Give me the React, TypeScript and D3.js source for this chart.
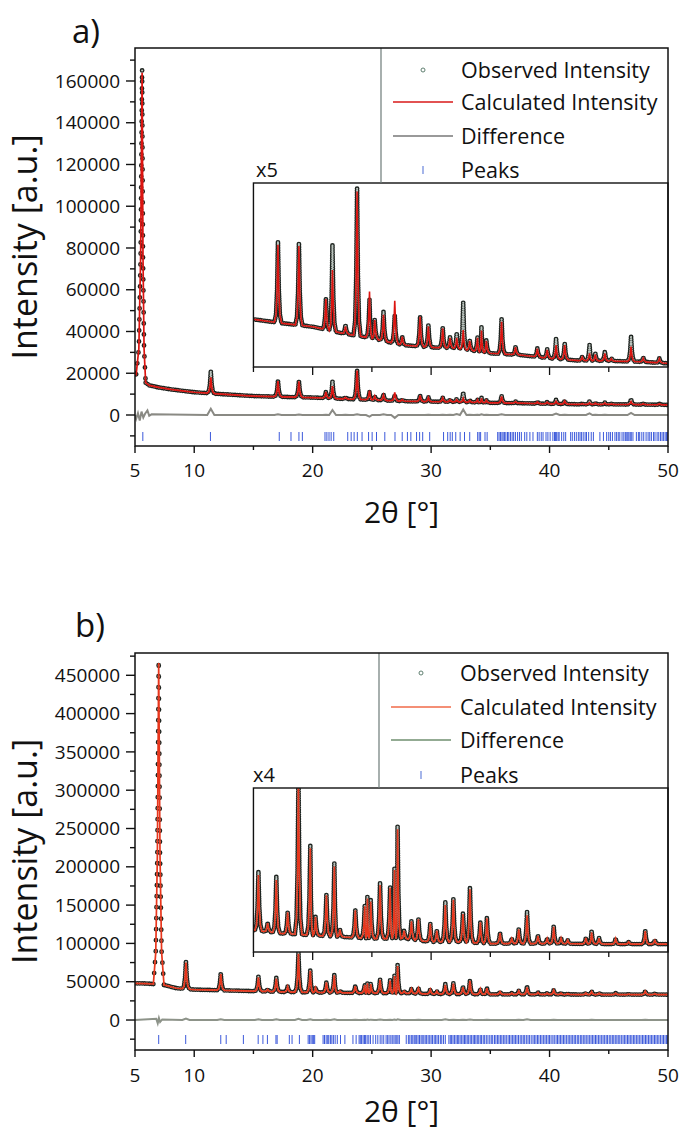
import React from 'react';
import * as d3 from 'd3';

type Pt = [number, number];
// [2theta, observed apex, calculated apex, left half-width?, right half-width?]
type Peak = [number, number, number, number?, number?];

// ---------- panel a ----------
const bgA: Pt[] = [
  [5.0, 20000], [5.9, 15500], [6.2, 14200], [7, 13200], [8, 12300], [9, 11600], [10, 10900],
  [12, 10100], [15, 9070], [17.5, 8680], [20, 8360], [22.5, 7730], [25, 7250], [27.5, 6610],
  [30, 6380], [32, 6290], [35, 5810], [37.5, 5650], [40, 5330], [42.5, 5110], [45, 5080],
  [47.5, 5010], [50, 4850],
];
const peaksA: Peak[] = [
  [5.6, 166000, 164000, 0.5, 0.3],
  [11.4, 21000, 18000], [17.07, 16500, 16200], [18.84, 16350, 16100], [21.12, 11080, 11000],
  [21.67, 16190, 13790], [22.77, 8520, 8400], [23.75, 21600, 21300], [24.8, 10920, 11720],
  [25.24, 9000, 9000], [25.98, 9800, 9500], [26.93, 9480, 10850], [27.56, 7400, 7400],
  [29.07, 9320, 9320], [29.77, 8520, 8400], [30.98, 8300, 8200], [31.6, 7400, 7300],
  [32.16, 7730, 7300], [32.71, 10660, 8040], [33.26, 7090, 7000], [33.92, 7400, 7300],
  [34.25, 8360, 8000], [34.66, 7090, 7000], [35.95, 9160, 8840], [37.13, 6450, 6400],
  [38.97, 6290, 6250], [39.8, 6200, 6150], [40.55, 7250, 6610], [41.28, 6770, 6600],
  [42.76, 5490, 5450], [43.38, 6610, 5810], [43.86, 5810, 5700], [44.67, 5970, 5800],
  [45.22, 5330, 5300], [46.88, 7470, 6450], [47.91, 5400, 5350], [49.27, 5330, 5300],
];
const diffExtraA: Pt[] = [
  [5.1, -1800], [5.25, 900], [5.4, -2600], [5.55, 1600], [5.7, -1200], [5.85, 600],
  [6.05, 2200], [6.2, -400], [6.4, 300],
];
const reflA: number[] = [
  5.66, 11.37, 17.18, 18.17, 18.84, 19.13, 21.04, 21.2, 21.38, 21.56, 21.78, 22.96, 23.25, 23.5,
  23.77, 24.17, 24.72, 25.02, 25.39, 26.09, 26.95, 27.56, 28.0, 28.29, 28.77, 29.03, 29.29, 29.88,
  31.05, 31.4, 31.61, 31.79, 32.08, 32.45, 32.82, 33.26, 33.93, 34.06, 34.18, 34.55, 34.73, 35.62,
  35.74, 35.86, 35.98, 36.08, 36.19, 36.31, 36.45, 36.56, 36.7, 36.84, 36.97, 37.12, 37.3, 37.46,
  37.62, 37.9, 38.08, 38.34, 38.6, 38.97, 39.12, 39.3, 39.45, 39.7, 39.86, 40.05, 40.28, 40.42,
  40.51, 40.6, 40.72, 40.81, 41.02, 41.2, 41.36, 41.78, 41.92, 42.1, 42.26, 42.43, 42.57, 42.69,
  42.84, 43.0, 43.12, 43.3, 43.52, 43.7, 44.25, 44.55, 44.82, 45.0, 45.14, 45.31, 45.52, 45.66,
  45.8, 45.93, 46.12, 46.27, 46.4, 46.52, 46.61, 46.7, 46.81, 46.9, 47.04, 47.33, 47.5, 47.61,
  47.79, 47.95, 48.15, 48.32, 48.46, 48.6, 48.78, 48.9, 49.08, 49.22, 49.37, 49.5, 49.63, 49.76,
  49.88, 49.97,
];
const yTicksA = [0, 20000, 40000, 60000, 80000, 100000, 120000, 140000, 160000];

// ---------- panel b ----------
const bgB: Pt[] = [
  [5, 47900], [6.0, 47600], [6.5, 47000], [7.5, 45600], [8.5, 41500], [10, 39700], [12, 38900],
  [15, 37700], [17.5, 36620], [20, 36075], [22.5, 35530], [25, 34990], [27.5, 34990], [30, 33900],
  [32.5, 33900], [35, 33360], [40, 33360], [45, 33200], [50, 33200],
];
const peaksB: Peak[] = [
  [7.0, 470000, 466000, 0.45, 0.45],
  [9.3, 77000, 75000], [12.24, 61000, 60000], [15.42, 56730, 55640], [16.2, 40100, 40000],
  [16.93, 55100, 54000], [17.89, 43680, 43500], [18.8, 88000, 86500], [19.8, 65420, 64340],
  [20.24, 42050, 42000], [21.16, 49440, 49100], [21.83, 59450, 58400], [22.3, 38000, 37900],
  [23.6, 44450, 44200], [24.4, 45860, 45500], [24.62, 48580, 48000], [24.9, 47490, 47000],
  [25.69, 53140, 52400], [26.54, 51840, 51500], [26.91, 57820, 57300], [27.17, 71500, 70500],
  [27.72, 37700, 37600], [28.34, 40750, 40600], [28.93, 41510, 41300], [29.93, 39880, 39800],
  [30.48, 37700, 37600], [31.2, 46950, 45900], [31.88, 48030, 47600], [32.69, 43360, 43000],
  [33.28, 51620, 51000], [34.16, 40420, 40300], [34.71, 41840, 41600], [35.82, 36840, 36800],
  [36.81, 35000, 35000], [37.4, 38250, 38000], [38.1, 43680, 42600], [39.02, 36000, 35900],
  [39.8, 35000, 35000], [40.35, 39010, 38800], [40.97, 35200, 35100], [41.53, 34500, 34500],
  [43.07, 35200, 35200], [43.55, 37490, 37000], [44.18, 35200, 35100], [45.58, 35000, 35000],
  [46.68, 33900, 33900], [48.08, 37700, 37400], [48.89, 34500, 34400],
];
const diffExtraB: Pt[] = [[6.8, 1500], [6.92, -4200], [7.02, 2600], [7.12, -2500], [7.3, 800]];
const reflB: number[] = [
  7.0, 9.28, 12.24, 12.7, 14.15, 15.4, 15.8, 16.18, 16.9, 17.0, 18.03, 18.26, 18.88, 19.62,
  19.74, 19.86, 19.97, 20.08, 20.17, 20.88, 21.0, 21.14, 21.27, 21.36, 21.5, 21.62, 21.75, 21.9,
  22.08, 22.35, 22.72, 23.4, 23.67, 23.92, 24.02, 24.13, 24.26, 24.38, 24.47, 24.6, 24.74, 24.88,
  25.1, 25.32, 25.5, 25.7, 25.85, 26.0, 26.2, 26.33, 26.45, 26.6, 26.72, 26.86, 26.97, 27.1, 27.2,
  27.32, 27.9, 28.08, 28.2, 28.33, 28.45, 28.57, 28.66, 28.78, 28.9, 29.02, 29.15, 29.25, 29.38,
  29.5, 29.62, 29.75, 29.88, 30.0, 30.12, 30.26, 30.38, 30.5, 30.63, 30.78, 30.9, 31.05, 31.2,
  31.5, 31.62, 31.73, 31.85, 31.97, 32.1, 32.22, 32.33, 32.45, 32.58, 32.7, 32.82, 32.93, 33.05,
  33.17, 33.3, 33.42, 33.55, 33.66, 33.78, 33.9, 34.02, 34.15, 34.26, 34.4, 34.52, 34.66, 34.8,
  34.95, 35.08, 35.2, 35.35, 35.47, 35.6, 35.72, 35.85, 35.97, 36.1, 36.23, 36.35, 36.5, 36.62,
  36.75, 36.88, 37.0, 37.12, 37.25, 37.38, 37.52, 37.65, 37.78, 37.9, 38.04, 38.18, 38.3, 38.45,
  38.6, 38.72, 38.85, 38.98, 39.1, 39.24, 39.36, 39.5, 39.62, 39.75, 39.88, 40.0, 40.13, 40.28,
  40.4, 40.55, 40.67, 40.8, 40.92, 41.05, 41.18, 41.3, 41.44, 41.57, 41.7, 41.82, 41.95, 42.08,
  42.2, 42.34, 42.46, 42.6, 42.72, 42.85, 42.98, 43.1, 43.24, 43.36, 43.5, 43.62, 43.75, 43.88,
  44.0, 44.14, 44.26, 44.4, 44.52, 44.65, 44.78, 44.9, 45.04, 45.17, 45.3, 45.42, 45.55, 45.68,
  45.8, 45.93, 46.06, 46.2, 46.32, 46.45, 46.58, 46.7, 46.82, 46.95, 47.08, 47.2, 47.33, 47.46,
  47.58, 47.72, 47.85, 47.97, 48.1, 48.22, 48.35, 48.48, 48.6, 48.73, 48.86, 48.98, 49.1, 49.23,
  49.36, 49.5, 49.62, 49.75, 49.88, 49.98,
];
const yTicksB = [0, 50000, 100000, 150000, 200000, 250000, 300000, 350000, 400000, 450000];

const xTicks = [5, 10, 20, 30, 40, 50];
const xMinor = [15, 25, 35, 45];
const insetMajor = [20, 30, 40];
const insetMinor = [15, 25, 35, 45];
const legendLabels = ['Observed Intensity', 'Calculated Intensity', 'Difference', 'Peaks'];

const LEFT = 135;
const RIGHT = 668;
const FONT = "'Open Sans', sans-serif";
const OBS_DARK = '#1e2420';

// builds observed / calculated / difference polylines from the peak list
function buildCurves(bg: Pt[], peaks: Peak[], extra: Pt[]) {
  const bgS = d3.scaleLinear().domain(bg.map(d => d[0])).range(bg.map(d => d[1])).clamp(true);
  const obs: Pt[] = [];
  const calc: Pt[] = [];
  const diff: Pt[] = [[5, 0], [50, 0], ...extra];
  const wins: Pt[] = [];
  peaks.forEach((p, i) => {
    const [x, o, c] = p;
    const prev = i > 0 ? peaks[i - 1][0] : -1e9;
    const next = i < peaks.length - 1 ? peaks[i + 1][0] : 1e9;
    const wl = Math.min(p[3] ?? 0.3, (x - prev) / 2);
    const wr = Math.min(p[4] ?? 0.3, (next - x) / 2);
    wins.push([x - wl, x + wr]);
    const bl = bgS(x - wl), br = bgS(x + wr), bm = bgS(x);
    const shape = (h: number): Pt[] => [
      [x - wl, bl], [x - 0.55 * wl, bm + 0.1 * (h - bm)], [x - 0.25 * wl, bm + 0.4 * (h - bm)], [x, h],
      [x + 0.25 * wr, bm + 0.4 * (h - bm)], [x + 0.55 * wr, bm + 0.1 * (h - bm)], [x + wr, br],
    ];
    obs.push(...shape(o));
    calc.push(...shape(c));
    if (i > 0) diff.push([x - wl, 0], [x, o - c], [x + wr, 0]);
  });
  bg.forEach(d => {
    if (!wins.some(w => d[0] > w[0] && d[0] < w[1])) {
      obs.push(d);
      calc.push(d);
    }
  });
  const byX = (a: Pt, b: Pt) => a[0] - b[0];
  obs.sort(byX);
  calc.sort(byX);
  diff.sort(byX);
  return { obs, calc, diff, mainWin: wins[0] };
}

interface PanelCfg {
  id: string;
  label: string;
  labelPos: Pt;
  top: number;
  bottom: number;
  yDomain: Pt;
  yTicks: number[];
  yMinor: number;
  insetTop: number;
  insetBottom: number;
  insetDomain: Pt;
  scaleText: string;
  scalePos: Pt;
  legendLeft: number;
  legendRows: number[];
  legendText: number;
  xLabelY: number;
  titleY: number;
  reflY: Pt;
  calcColor: string;
  calcLegend: string;
  diffColor: string;
  diffLegend: string;
  bg: Pt[];
  peaks: Peak[];
  extra: Pt[];
  refl: number[];
}

const Rings = ({ d, gap }: { d: string; gap: number }) => (
  <g fill="none" strokeLinecap="round">
    <path d={d} stroke={OBS_DARK} strokeWidth={4.8} strokeDasharray={`0 ${gap}`} />
    <path d={d} stroke="#bcc5bf" strokeWidth={2.1} strokeDasharray={`0 ${gap}`} />
  </g>
);

const Panel = ({ cfg }: { cfg: PanelCfg }) => {
  const x = d3.scaleLinear().domain([5, 50]).range([LEFT, RIGHT]);
  const y = d3.scaleLinear().domain(cfg.yDomain).range([cfg.bottom, cfg.top]);
  const yi = d3.scaleLinear().domain(cfg.insetDomain).range([cfg.insetBottom, cfg.insetTop]);
  const { obs, calc, diff, mainWin } = buildCurves(cfg.bg, cfg.peaks, cfg.extra);
  const lineY = d3.line<Pt>().x(d => x(d[0])).y(d => y(d[1]));
  const lineI = d3.line<Pt>().x(d => x(d[0])).y(d => yi(d[1]));
  const before = obs.filter(d => d[0] <= mainWin[0]);
  const inMain = obs.filter(d => d[0] >= mainWin[0] && d[0] <= mainWin[1]);
  const after = obs.filter(d => d[0] >= mainWin[1]);
  const minor = d3
    .range(Math.ceil(cfg.yDomain[0] / cfg.yMinor) * cfg.yMinor, cfg.yDomain[1], cfg.yMinor)
    .filter(v => !cfg.yTicks.includes(v));
  const insetLeft = x(15);
  const midY = (cfg.top + cfg.bottom) / 2;

  return (
    <g fontFamily={FONT} fill="#111">
      <defs>
        <clipPath id={`inset-${cfg.id}`}>
          <rect x={insetLeft} y={cfg.insetTop} width={RIGHT - insetLeft} height={cfg.insetBottom - cfg.insetTop} />
        </clipPath>
        <clipPath id={`main-${cfg.id}`}>
          <rect x={LEFT} y={cfg.top} width={RIGHT - LEFT} height={cfg.bottom - cfg.top} />
        </clipPath>
      </defs>

      <text x={cfg.labelPos[0]} y={cfg.labelPos[1]} fontSize={33}>{cfg.label}</text>

      {/* main plot */}
      <g clipPath={`url(#main-${cfg.id})`}>
        <path d={lineY(diff) ?? ''} fill="none" stroke={cfg.diffColor} strokeWidth={2} />
        {cfg.refl.map((r, i) => (
          <line key={i} x1={x(r)} x2={x(r)} y1={cfg.reflY[0]} y2={cfg.reflY[1]} stroke="#2646d6" strokeWidth={0.9} />
        ))}
        <Rings d={lineY(before) ?? ''} gap={2.4} />
        <Rings d={lineY(after) ?? ''} gap={2.4} />
        <Rings d={lineY(inMain) ?? ''} gap={11} />
        <path d={lineY(calc) ?? ''} fill="none" stroke={cfg.calcColor} strokeWidth={1.7} />
      </g>

      {/* inset */}
      <rect x={insetLeft} y={cfg.insetTop} width={RIGHT - insetLeft} height={cfg.insetBottom - cfg.insetTop} fill="#fff" />
      <g clipPath={`url(#inset-${cfg.id})`}>
        <Rings d={lineI(obs) ?? ''} gap={2.3} />
        <path d={lineI(calc) ?? ''} fill="none" stroke={cfg.calcColor} strokeWidth={1.6} />
      </g>
      <rect x={insetLeft} y={cfg.insetTop} width={RIGHT - insetLeft} height={cfg.insetBottom - cfg.insetTop} fill="none" stroke="#111" strokeWidth={1.4} />
      {insetMajor.map(t => (
        <line key={t} x1={x(t)} x2={x(t)} y1={cfg.insetBottom} y2={cfg.insetBottom + 8} stroke="#111" strokeWidth={1.3} />
      ))}
      {insetMinor.map(t => (
        <line key={t} x1={x(t)} x2={x(t)} y1={cfg.insetBottom} y2={cfg.insetBottom + 5} stroke="#111" strokeWidth={1.3} />
      ))}
      <text x={cfg.scalePos[0]} y={cfg.scalePos[1]} fontSize={20}>{cfg.scaleText}</text>

      {/* legend */}
      <line x1={cfg.legendLeft} x2={cfg.legendLeft} y1={cfg.top} y2={cfg.insetTop} stroke="#6d7b78" strokeWidth={1.2} />
      {legendLabels.map((lab, i) => (
        <text key={lab} x={cfg.legendText} y={cfg.legendRows[i]} dy="0.35em" fontSize={21.5}>{lab}</text>
      ))}
      <circle cx={cfg.legendLeft + 42} cy={cfg.legendRows[0]} r={2} fill="none" stroke="#5f7f70" strokeWidth={1} />
      <line x1={cfg.legendLeft + 12} x2={cfg.legendLeft + 72} y1={cfg.legendRows[1]} y2={cfg.legendRows[1]} stroke={cfg.calcLegend} strokeWidth={1.6} />
      <line x1={cfg.legendLeft + 12} x2={cfg.legendLeft + 72} y1={cfg.legendRows[2]} y2={cfg.legendRows[2]} stroke={cfg.diffLegend} strokeWidth={1.6} />
      <line x1={cfg.legendLeft + 42} x2={cfg.legendLeft + 42} y1={cfg.legendRows[3] - 4} y2={cfg.legendRows[3] + 4} stroke="#5a78d8" strokeWidth={1.1} />

      {/* frame and axes */}
      <rect x={LEFT} y={cfg.top} width={RIGHT - LEFT} height={cfg.bottom - cfg.top} fill="none" stroke="#111" strokeWidth={1.5} />
      {cfg.yTicks.map(t => (
        <g key={t}>
          <line x1={LEFT - 9} x2={LEFT} y1={y(t)} y2={y(t)} stroke="#111" strokeWidth={1.4} />
          <text x={LEFT - 15} y={y(t)} dy="0.35em" textAnchor="end" fontSize={19}>{t}</text>
        </g>
      ))}
      {minor.map(t => (
        <line key={t} x1={LEFT - 5} x2={LEFT} y1={y(t)} y2={y(t)} stroke="#111" strokeWidth={1.4} />
      ))}
      {xTicks.map(t => (
        <g key={t}>
          <line x1={x(t)} x2={x(t)} y1={cfg.bottom} y2={cfg.bottom + 7} stroke="#111" strokeWidth={1.4} />
          <text x={x(t)} y={cfg.xLabelY} textAnchor="middle" fontSize={19}>{t}</text>
        </g>
      ))}
      {xMinor.map(t => (
        <line key={t} x1={x(t)} x2={x(t)} y1={cfg.bottom} y2={cfg.bottom + 4} stroke="#111" strokeWidth={1.4} />
      ))}
      <text x={(LEFT + RIGHT) / 2} y={cfg.titleY} textAnchor="middle" fontSize={30}>2θ [°]</text>
      <text transform={`translate(37,${midY}) rotate(-90)`} textAnchor="middle" fontSize={34}>Intensity [a.u.]</text>
    </g>
  );
};

const panelA: PanelCfg = {
  id: 'a', label: 'a)', labelPos: [72, 43], top: 48, bottom: 446, yDomain: [-14850, 175800],
  yTicks: yTicksA, yMinor: 10000, insetTop: 183, insetBottom: 367, insetDomain: [4500, 22125],
  scaleText: 'x5', scalePos: [256, 177], legendLeft: 381, legendRows: [70, 102, 136, 170],
  legendText: 461, xLabelY: 477, titleY: 523, reflY: [432, 441], calcColor: '#dc1410',
  calcLegend: '#d81818', diffColor: '#8a8a84', diffLegend: '#777', bg: bgA, peaks: peaksA,
  extra: diffExtraA, refl: reflA,
};

const panelB: PanelCfg = {
  id: 'b', label: 'b)', labelPos: [75, 637], top: 653, bottom: 1050, yDomain: [-39130, 479100],
  yTicks: yTicksB, yMinor: 25000, insetTop: 788, insetBottom: 952, insetDomain: [30640, 83920],
  scaleText: 'x4', scalePos: [253, 782], legendLeft: 379, legendRows: [673, 707, 740, 775],
  legendText: 460, xLabelY: 1082, titleY: 1122, reflY: [1035, 1044], calcColor: '#e8361c',
  calcLegend: '#f06a48', diffColor: '#8d9389', diffLegend: '#6f8f6f', bg: bgB, peaks: peaksB,
  extra: diffExtraB, refl: reflB,
};

export default function App() {
  return (
    <svg
      width={683}
      height={1131}
      viewBox="0 0 683 1131"
      style={{ position: 'absolute', left: 0, top: 0, background: '#fff' }}
    >
      <rect width={683} height={1131} fill="#fff" />
      <Panel cfg={panelA} />
      <Panel cfg={panelB} />
    </svg>
  );
}
